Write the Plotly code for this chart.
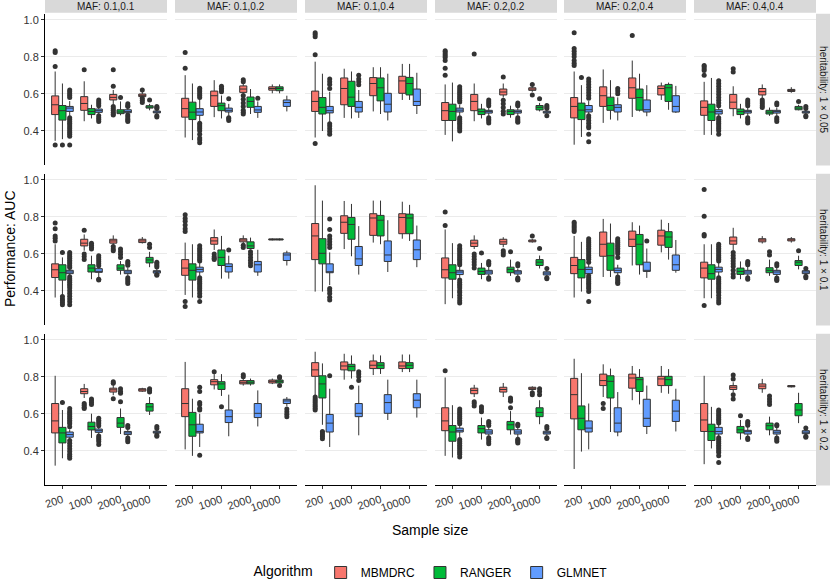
import plotly.graph_objects as go

# данные
sizes = ['200', '1000', '2000', '10000']
maf_labels = ['MAF: 0.1,0.1', 'MAF: 0.1,0.2', 'MAF: 0.1,0.4',
              'MAF: 0.2,0.2', 'MAF: 0.2,0.4', 'MAF: 0.4,0.4']
herit_labels = ['heritability: 1 × 0.05', 'heritability: 1 × 0.1',
                'heritability: 1 × 0.2']
algorithms = ['MBMDRC', 'RANGER', 'GLMNET']
colors = ['#F8766D', '#00BA38', '#619CFF']

# [lower whisker, q1, median, q3, upper whisker] per sample size;
# facets go row by row (heritability), then by MAF
mbmdrc_stats = [
    [[0.345, 0.487, 0.54, 0.588, 0.72], [0.451, 0.51, 0.547, 0.584, 0.667], [0.543, 0.566, 0.58, 0.596, 0.62], [0.58, 0.584, 0.591, 0.598, 0.61]],
    [[0.363, 0.473, 0.519, 0.575, 0.70], [0.473, 0.531, 0.589, 0.614, 0.673], [0.60, 0.607, 0.625, 0.642, 0.655], [0.602, 0.619, 0.628, 0.637, 0.65]],
    [[0.363, 0.504, 0.558, 0.614, 0.773], [0.469, 0.54, 0.628, 0.685, 0.735], [0.504, 0.589, 0.655, 0.687, 0.743], [0.566, 0.602, 0.669, 0.694, 0.761]],
    [[0.377, 0.455, 0.508, 0.552, 0.65], [0.451, 0.508, 0.558, 0.596, 0.655], [0.579, 0.593, 0.609, 0.625, 0.655], [0.61, 0.618, 0.625, 0.632, 0.64]],
    [[0.324, 0.469, 0.531, 0.579, 0.72], [0.442, 0.531, 0.589, 0.637, 0.731], [0.474, 0.575, 0.632, 0.685, 0.779], [0.566, 0.593, 0.628, 0.642, 0.66]],
    [[0.377, 0.483, 0.526, 0.561, 0.664], [0.478, 0.519, 0.554, 0.596, 0.64], [0.575, 0.593, 0.611, 0.628, 0.65], [0.605, 0.612, 0.618, 0.623, 0.635]],
    [[0.363, 0.471, 0.513, 0.545, 0.651], [0.616, 0.642, 0.657, 0.678, 0.704], [0.645, 0.657, 0.669, 0.678, 0.699], [0.655, 0.66, 0.669, 0.678, 0.69]],
    [[0.377, 0.483, 0.522, 0.568, 0.66], [0.62, 0.651, 0.669, 0.687, 0.731], [0.655, 0.664, 0.674, 0.681, 0.699], [0.672, 0.674, 0.677, 0.68, 0.683]],
    [[0.395, 0.568, 0.696, 0.763, 0.97], [0.625, 0.71, 0.77, 0.805, 0.885], [0.66, 0.699, 0.793, 0.816, 0.887], [0.681, 0.708, 0.796, 0.816, 0.881]],
    [[0.327, 0.469, 0.513, 0.577, 0.731], [0.625, 0.639, 0.657, 0.673, 0.699], [0.635, 0.651, 0.664, 0.678, 0.689], [0.66, 0.664, 0.669, 0.674, 0.68]],
    [[0.363, 0.492, 0.536, 0.58, 0.696], [0.474, 0.586, 0.651, 0.717, 0.788], [0.536, 0.639, 0.678, 0.722, 0.77], [0.607, 0.646, 0.696, 0.727, 0.784]],
    [[0.359, 0.469, 0.522, 0.554, 0.651], [0.62, 0.651, 0.669, 0.69, 0.74], [0.655, 0.664, 0.674, 0.681, 0.695], [0.66, 0.669, 0.675, 0.681, 0.69]],
    [[0.319, 0.496, 0.561, 0.655, 0.805], [0.685, 0.708, 0.72, 0.735, 0.761], [0.70, 0.717, 0.729, 0.738, 0.756], [0.718, 0.722, 0.729, 0.735, 0.74]],
    [[0.407, 0.584, 0.655, 0.735, 0.88], [0.731, 0.756, 0.773, 0.784, 0.814], [0.752, 0.761, 0.77, 0.779, 0.79], [0.76, 0.766, 0.775, 0.782, 0.79]],
    [[0.70, 0.802, 0.837, 0.876, 0.935], [0.784, 0.837, 0.858, 0.88, 0.924], [0.809, 0.844, 0.862, 0.885, 0.92], [0.825, 0.844, 0.858, 0.88, 0.92]],
    [[0.372, 0.508, 0.561, 0.632, 0.796], [0.69, 0.708, 0.726, 0.738, 0.756], [0.69, 0.717, 0.731, 0.743, 0.766], [0.725, 0.731, 0.738, 0.743, 0.748]],
    [[0.301, 0.572, 0.703, 0.791, 0.897], [0.69, 0.752, 0.779, 0.814, 0.867], [0.673, 0.738, 0.793, 0.814, 0.858], [0.713, 0.752, 0.788, 0.802, 0.858]],
    [[0.327, 0.504, 0.566, 0.655, 0.805], [0.715, 0.731, 0.743, 0.752, 0.77], [0.713, 0.735, 0.749, 0.761, 0.788], [0.742, 0.745, 0.748, 0.752, 0.755]],
]
ranger_stats = [
    [[0.354, 0.457, 0.508, 0.536, 0.655], [0.466, 0.487, 0.504, 0.519, 0.54], [0.483, 0.492, 0.501, 0.513, 0.558], [0.51, 0.522, 0.527, 0.535, 0.545]],
    [[0.349, 0.46, 0.50, 0.554, 0.655], [0.466, 0.508, 0.535, 0.549, 0.59], [0.49, 0.526, 0.558, 0.582, 0.625], [0.602, 0.616, 0.628, 0.637, 0.65]],
    [[0.398, 0.49, 0.526, 0.579, 0.708], [0.466, 0.531, 0.581, 0.667, 0.72], [0.49, 0.561, 0.632, 0.685, 0.743], [0.566, 0.593, 0.655, 0.688, 0.761]],
    [[0.342, 0.455, 0.504, 0.543, 0.66], [0.466, 0.487, 0.503, 0.517, 0.545], [0.47, 0.487, 0.504, 0.513, 0.535], [0.504, 0.512, 0.526, 0.536, 0.55]],
    [[0.366, 0.46, 0.511, 0.549, 0.646], [0.46, 0.51, 0.536, 0.581, 0.673], [0.504, 0.511, 0.579, 0.625, 0.708], [0.513, 0.558, 0.632, 0.65, 0.66]],
    [[0.377, 0.455, 0.501, 0.543, 0.685], [0.466, 0.487, 0.503, 0.517, 0.545], [0.48, 0.49, 0.50, 0.51, 0.525], [0.51, 0.513, 0.522, 0.531, 0.54]],
    [[0.376, 0.457, 0.497, 0.54, 0.58], [0.462, 0.501, 0.522, 0.54, 0.589], [0.487, 0.51, 0.522, 0.54, 0.56], [0.527, 0.55, 0.566, 0.58, 0.61]],
    [[0.363, 0.457, 0.51, 0.545, 0.651], [0.465, 0.536, 0.58, 0.62, 0.696], [0.623, 0.628, 0.642, 0.664, 0.687], [0.672, 0.674, 0.677, 0.68, 0.683]],
    [[0.395, 0.545, 0.602, 0.681, 0.887], [0.586, 0.678, 0.758, 0.796, 0.869], [0.651, 0.696, 0.781, 0.807, 0.887], [0.669, 0.708, 0.793, 0.814, 0.864]],
    [[0.359, 0.462, 0.497, 0.54, 0.657], [0.462, 0.488, 0.504, 0.522, 0.55], [0.48, 0.497, 0.515, 0.527, 0.568], [0.52, 0.536, 0.554, 0.568, 0.59]],
    [[0.395, 0.469, 0.515, 0.568, 0.664], [0.474, 0.51, 0.589, 0.657, 0.763], [0.487, 0.54, 0.651, 0.704, 0.752], [0.568, 0.634, 0.69, 0.719, 0.766]],
    [[0.359, 0.462, 0.492, 0.54, 0.651], [0.462, 0.488, 0.504, 0.522, 0.558], [0.48, 0.497, 0.51, 0.524, 0.568], [0.515, 0.536, 0.554, 0.563, 0.589]],
    [[0.359, 0.442, 0.496, 0.526, 0.62], [0.469, 0.512, 0.531, 0.554, 0.60], [0.49, 0.526, 0.549, 0.579, 0.628], [0.593, 0.614, 0.637, 0.655, 0.69]],
    [[0.372, 0.478, 0.54, 0.607, 0.681], [0.696, 0.731, 0.761, 0.773, 0.814], [0.752, 0.761, 0.77, 0.779, 0.79], [0.758, 0.766, 0.775, 0.782, 0.79]],
    [[0.54, 0.685, 0.761, 0.805, 0.872], [0.79, 0.832, 0.855, 0.867, 0.915], [0.815, 0.844, 0.862, 0.876, 0.915], [0.825, 0.844, 0.862, 0.876, 0.92]],
    [[0.363, 0.451, 0.501, 0.536, 0.646], [0.46, 0.496, 0.519, 0.536, 0.579], [0.487, 0.513, 0.54, 0.558, 0.614], [0.543, 0.584, 0.607, 0.632, 0.673]],
    [[0.395, 0.513, 0.575, 0.642, 0.819], [0.501, 0.685, 0.775, 0.805, 0.844], [0.65, 0.72, 0.784, 0.796, 0.841], [0.708, 0.752, 0.784, 0.802, 0.841]],
    [[0.412, 0.455, 0.504, 0.543, 0.637], [0.46, 0.496, 0.513, 0.531, 0.566], [0.483, 0.513, 0.535, 0.549, 0.584], [0.549, 0.589, 0.62, 0.655, 0.713]],
]
glmnet_stats = [
    [[0.48, 0.504, 0.522, 0.531, 0.56], [0.49, 0.499, 0.508, 0.517, 0.53], [0.49, 0.497, 0.503, 0.513, 0.525], [0.486, 0.496, 0.50, 0.506, 0.515]],
    [[0.451, 0.483, 0.501, 0.519, 0.575], [0.48, 0.501, 0.51, 0.522, 0.545], [0.469, 0.499, 0.512, 0.531, 0.558], [0.504, 0.531, 0.552, 0.566, 0.589]],
    [[0.445, 0.496, 0.508, 0.531, 0.61], [0.469, 0.501, 0.526, 0.558, 0.62], [0.455, 0.501, 0.543, 0.602, 0.708], [0.49, 0.536, 0.558, 0.625, 0.713]],
    [[0.48, 0.501, 0.511, 0.522, 0.54], [0.48, 0.495, 0.503, 0.51, 0.53], [0.48, 0.495, 0.503, 0.511, 0.525], [0.485, 0.495, 0.50, 0.505, 0.515]],
    [[0.49, 0.501, 0.513, 0.536, 0.56], [0.455, 0.501, 0.526, 0.54, 0.58], [0.478, 0.501, 0.513, 0.566, 0.646], [0.496, 0.501, 0.531, 0.589, 0.642]],
    [[0.48, 0.49, 0.503, 0.513, 0.53], [0.48, 0.495, 0.503, 0.51, 0.525], [0.48, 0.495, 0.503, 0.51, 0.525], [0.485, 0.495, 0.50, 0.505, 0.515]],
    [[0.483, 0.492, 0.501, 0.51, 0.52], [0.47, 0.499, 0.504, 0.519, 0.53], [0.48, 0.492, 0.501, 0.51, 0.525], [0.49, 0.495, 0.503, 0.508, 0.52]],
    [[0.48, 0.501, 0.515, 0.527, 0.55], [0.465, 0.501, 0.531, 0.545, 0.589], [0.48, 0.501, 0.54, 0.558, 0.621], [0.536, 0.563, 0.593, 0.604, 0.616]],
    [[0.43, 0.497, 0.501, 0.545, 0.607], [0.487, 0.536, 0.572, 0.639, 0.749], [0.501, 0.558, 0.593, 0.669, 0.781], [0.527, 0.568, 0.621, 0.674, 0.752]],
    [[0.47, 0.487, 0.501, 0.51, 0.53], [0.475, 0.49, 0.501, 0.51, 0.53], [0.475, 0.49, 0.501, 0.508, 0.52], [0.475, 0.485, 0.495, 0.502, 0.51]],
    [[0.485, 0.492, 0.515, 0.527, 0.545], [0.48, 0.497, 0.51, 0.522, 0.54], [0.469, 0.504, 0.51, 0.554, 0.628], [0.497, 0.51, 0.54, 0.593, 0.674]],
    [[0.48, 0.501, 0.515, 0.527, 0.55], [0.475, 0.49, 0.501, 0.51, 0.53], [0.475, 0.488, 0.501, 0.51, 0.525], [0.485, 0.492, 0.501, 0.508, 0.515]],
    [[0.465, 0.473, 0.487, 0.501, 0.515], [0.49, 0.499, 0.508, 0.517, 0.53], [0.478, 0.487, 0.496, 0.504, 0.515], [0.49, 0.495, 0.50, 0.505, 0.515]],
    [[0.42, 0.496, 0.504, 0.543, 0.60], [0.478, 0.552, 0.584, 0.62, 0.703], [0.531, 0.579, 0.602, 0.655, 0.726], [0.64, 0.655, 0.669, 0.678, 0.69]],
    [[0.42, 0.501, 0.549, 0.596, 0.735], [0.483, 0.584, 0.602, 0.655, 0.752], [0.566, 0.602, 0.66, 0.703, 0.784], [0.579, 0.632, 0.673, 0.708, 0.784]],
    [[0.47, 0.501, 0.508, 0.522, 0.54], [0.48, 0.49, 0.501, 0.513, 0.525], [0.47, 0.49, 0.501, 0.513, 0.525], [0.478, 0.49, 0.497, 0.505, 0.515]],
    [[0.407, 0.501, 0.522, 0.561, 0.655], [0.478, 0.501, 0.549, 0.632, 0.717], [0.49, 0.531, 0.575, 0.678, 0.752], [0.504, 0.558, 0.614, 0.673, 0.735]],
    [[0.475, 0.49, 0.504, 0.526, 0.54], [0.475, 0.49, 0.503, 0.51, 0.53], [0.475, 0.49, 0.50, 0.51, 0.525], [0.485, 0.492, 0.50, 0.508, 0.515]],
]

# выбросы (outliers) per sample size, same facet order
mbmdrc_out = [
    [[0.832, 0.823, 0.747, 0.322], [0.73], [0.729, 0.64, 0.53, 0.52, 0.51, 0.50, 0.49, 0.485], [0.62, 0.575, 0.565, 0.552]],
    [[0.823, 0.738], [], [0.675, 0.665, 0.59, 0.57, 0.55, 0.53, 0.51, 0.50, 0.49], []],
    [[0.929, 0.92, 0.908, 0.81, 0.331], [], [], []],
    [[0.832, 0.825, 0.815, 0.805, 0.795, 0.78, 0.738, 0.70], [0.814], [0.69, 0.565, 0.545, 0.525, 0.505, 0.49], [0.65, 0.593]],
    [[0.929, 0.844, 0.83, 0.815, 0.80, 0.78, 0.765, 0.752], [], [0.915], []],
    [[0.752, 0.745, 0.735, 0.725, 0.70], [0.735, 0.717], [0.566, 0.555, 0.545, 0.535, 0.525], []],
    [[0.766, 0.735, 0.696, 0.683, 0.669], [0.727, 0.598, 0.585, 0.568], [0.639, 0.625, 0.616], []],
    [[0.81, 0.79, 0.775, 0.755, 0.735, 0.72, 0.342, 0.315], [0.598, 0.585, 0.575, 0.568], [0.646, 0.634], []],
    [[], [], [], []],
    [[0.825, 0.752], [0.598, 0.585, 0.57, 0.555, 0.54, 0.522], [0.616, 0.605, 0.593], [0.696]],
    [[0.77, 0.76, 0.75, 0.74, 0.73, 0.72], [], [], []],
    [[0.947, 0.802, 0.704, 0.696, 0.32], [0.607, 0.59, 0.575, 0.56, 0.545, 0.53, 0.51, 0.49, 0.474], [], []],
    [[], [0.655, 0.645, 0.635, 0.628], [0.773, 0.765, 0.681], []],
    [[], [0.827], [0.81, 0.80], []],
    [[0.69, 0.68, 0.67, 0.66, 0.65, 0.64, 0.63, 0.62], [], [], []],
    [[0.832], [0.664, 0.655, 0.642], [], [0.713, 0.703]],
    [[], [0.655, 0.628], [], []],
    [[], [0.809, 0.788, 0.703, 0.68], [], []],
]
ranger_out = [
    [[0.322], [], [0.579], [0.566]],
    [[], [0.64, 0.63, 0.62, 0.61], [], []],
    [[], [], [], []],
    [[], [], [], [0.572]],
    [[0.687], [], [], []],
    [[], [], [], [0.558]],
    [[0.607, 0.368, 0.355, 0.345, 0.335, 0.324], [0.657, 0.645, 0.635, 0.625], [0.625, 0.61, 0.595, 0.58], [0.651, 0.634]],
    [[], [], [0.61, 0.595, 0.58, 0.565, 0.55, 0.535], []],
    [[], [], [], []],
    [[], [0.604], [0.611], [0.628]],
    [[], [], [], []],
    [[], [], [0.611, 0.593], [0.616]],
    [[0.66], [0.68, 0.67, 0.66, 0.65], [0.735, 0.72, 0.71, 0.664], [0.735, 0.725, 0.717]],
    [[], [0.637], [], [0.80, 0.795, 0.752]],
    [[0.504, 0.495, 0.485, 0.475, 0.465], [0.743], [], []],
    [[], [0.637, 0.625, 0.61], [0.685, 0.675, 0.667, 0.632], [0.735, 0.72, 0.703]],
    [[], [], [], []],
    [[], [0.589], [0.696, 0.68, 0.665, 0.65], []],
]
glmnet_out = [
    [[0.62, 0.61, 0.60, 0.59, 0.58, 0.47, 0.46, 0.45, 0.44, 0.43, 0.42, 0.41, 0.40, 0.39, 0.38, 0.37, 0.322],
     [0.566, 0.555, 0.545, 0.535, 0.48, 0.47, 0.46, 0.45],
     [0.545, 0.535, 0.53, 0.485, 0.475, 0.465, 0.458, 0.45],
     [0.531, 0.525, 0.52, 0.48, 0.474]],
    [[0.63, 0.62, 0.61, 0.60, 0.59, 0.58, 0.44, 0.43, 0.42, 0.41, 0.40, 0.38, 0.36, 0.35, 0.335],
     [0.572, 0.47, 0.465, 0.455], [0.575], []],
    [[0.68, 0.665, 0.65, 0.628, 0.437, 0.425, 0.41, 0.395, 0.38], [0.70, 0.68, 0.665, 0.648], [], []],
    [[0.637, 0.625, 0.615, 0.605, 0.595, 0.585, 0.575, 0.565, 0.555, 0.47, 0.46, 0.45, 0.44, 0.43, 0.42, 0.41, 0.398],
     [0.566, 0.555, 0.545, 0.535, 0.47, 0.46, 0.452, 0.442],
     [0.55, 0.54, 0.535, 0.47, 0.46, 0.452, 0.445],
     [0.536, 0.528, 0.52, 0.48]],
    [[0.68, 0.665, 0.65, 0.635, 0.62, 0.605, 0.59, 0.575, 0.48, 0.47, 0.455, 0.44, 0.425, 0.416, 0.38, 0.34],
     [0.628, 0.615, 0.60], [], []],
    [[0.67, 0.655, 0.64, 0.625, 0.61, 0.595, 0.58, 0.565, 0.55, 0.535, 0.47, 0.46, 0.45, 0.44, 0.43, 0.42, 0.41, 0.40, 0.38],
     [0.566, 0.555, 0.545, 0.535, 0.47, 0.46, 0.45, 0.442],
     [0.55, 0.54, 0.47, 0.46, 0.45],
     [0.53, 0.52, 0.48, 0.475]],
    [[0.607, 0.595, 0.585, 0.575, 0.565, 0.555, 0.545, 0.535, 0.525, 0.475, 0.465, 0.455, 0.445, 0.435, 0.425, 0.415, 0.40, 0.385, 0.37, 0.355, 0.34, 0.324],
     [0.589, 0.578, 0.567, 0.556, 0.545, 0.535, 0.462, 0.457],
     [0.558, 0.548, 0.538, 0.47, 0.46, 0.45, 0.439],
     [0.554, 0.545, 0.536, 0.528, 0.488, 0.483]],
    [[0.643, 0.63, 0.62, 0.61, 0.60, 0.59, 0.58, 0.57, 0.56, 0.47, 0.46, 0.45, 0.44, 0.43, 0.42, 0.41, 0.40, 0.385, 0.37, 0.342],
     [0.62], [], []],
    [[0.788, 0.731, 0.696, 0.68, 0.665, 0.65, 0.634, 0.412, 0.40, 0.385, 0.365, 0.35], [], [], []],
    [[0.643, 0.63, 0.62, 0.61, 0.60, 0.59, 0.58, 0.57, 0.56, 0.55, 0.54, 0.457, 0.445, 0.435, 0.425, 0.415, 0.40, 0.39, 0.375, 0.36, 0.345, 0.333],
     [0.558, 0.548, 0.54, 0.47, 0.462],
     [0.545, 0.535, 0.468, 0.462, 0.457],
     [0.52, 0.47, 0.465]],
    [[0.681, 0.67, 0.66, 0.65, 0.64, 0.63, 0.62, 0.61, 0.60, 0.59, 0.58, 0.57, 0.554, 0.48, 0.47, 0.46, 0.45, 0.44, 0.43, 0.42, 0.41, 0.395, 0.342],
     [0.681, 0.67, 0.66, 0.65, 0.64, 0.63, 0.62, 0.61, 0.60, 0.58, 0.474, 0.465, 0.455, 0.445, 0.439],
     [0.669], []],
    [[0.651, 0.64, 0.63, 0.62, 0.61, 0.60, 0.59, 0.58, 0.57, 0.56, 0.47, 0.46, 0.45, 0.44, 0.43, 0.42, 0.41, 0.40, 0.39, 0.375, 0.36, 0.345, 0.333],
     [0.558, 0.548, 0.54, 0.47, 0.462],
     [0.545, 0.535, 0.468, 0.46, 0.455],
     [0.52, 0.478, 0.47]],
    [[0.628, 0.615, 0.605, 0.595, 0.585, 0.575, 0.565, 0.555, 0.545, 0.53, 0.455, 0.44, 0.425, 0.41, 0.395, 0.38, 0.37, 0.359],
     [0.575, 0.565, 0.555, 0.545, 0.535, 0.48, 0.47, 0.46, 0.45, 0.434],
     [0.536, 0.525, 0.469, 0.458, 0.448],
     [0.531, 0.52, 0.485, 0.478]],
    [[0.743, 0.72, 0.66, 0.65, 0.63, 0.62, 0.375], [], [], [0.625, 0.61, 0.597, 0.584]],
    [[0.805], [0.827, 0.815, 0.80, 0.779], [], []],
    [[0.625, 0.615, 0.605, 0.595, 0.585, 0.575, 0.565, 0.555, 0.545, 0.46, 0.45, 0.44, 0.43, 0.42, 0.41, 0.40, 0.39, 0.38, 0.366],
     [0.558, 0.548, 0.536, 0.47, 0.46, 0.448, 0.437],
     [0.543, 0.535, 0.462, 0.455, 0.448, 0.442],
     [0.531, 0.52, 0.47, 0.466]],
    [[], [], [], []],
    [[0.62, 0.61, 0.60, 0.59, 0.58, 0.57, 0.56, 0.55, 0.47, 0.46, 0.45, 0.44, 0.43, 0.42, 0.41, 0.40, 0.39, 0.372, 0.336],
     [0.558, 0.548, 0.538, 0.468, 0.46],
     [0.54, 0.535, 0.468, 0.46, 0.451],
     [0.522, 0.478, 0.473]],
]

all_stats = [mbmdrc_stats, ranger_stats, glmnet_stats]
all_out = [mbmdrc_out, ranger_out, glmnet_out]

# размеры панелей в пикселях
W, H = 830, 587
col_left = [45, 175, 305, 435, 564, 694]
panel_w = 122
row_top = [14, 176.5, 339]
panel_h = 154
strip_h = 13
font = 'Liberation Sans, Arial, sans-serif'
dark = '#333333'

fig = go.Figure()
layout = {}
shapes = []
annotations = []

for r in range(3):
    for c in range(6):
        k = r * 6 + c
        sfx = '' if k == 0 else str(k + 1)
        xa, ya = 'x' + sfx, 'y' + sfx
        for a in range(3):
            st = all_stats[a][k]
            xs = [i + 1 + (a - 1) * 0.25 for i in range(4)]
            fig.add_trace(go.Box(
                x=xs,
                lowerfence=[s[0] for s in st],
                q1=[s[1] for s in st],
                median=[s[2] for s in st],
                q3=[s[3] for s in st],
                upperfence=[s[4] for s in st],
                width=0.245,
                whiskerwidth=0,
                boxpoints=False,
                fillcolor=colors[a],
                line=dict(color=dark, width=1),
                name=algorithms[a],
                legendgroup=algorithms[a],
                showlegend=(k == 0),
                hoverinfo='skip',
                xaxis=xa, yaxis=ya))
            ox, oy = [], []
            for i, pts in enumerate(all_out[a][k]):
                ox += [xs[i]] * len(pts)
                oy += pts
            fig.add_trace(go.Scatter(
                x=ox, y=oy, mode='markers',
                marker=dict(size=5, color=dark),
                showlegend=False, hoverinfo='skip',
                xaxis=xa, yaxis=ya))

        x0 = col_left[c] / W
        x1 = (col_left[c] + panel_w) / W
        y1 = 1 - row_top[r] / H
        y0 = 1 - (row_top[r] + panel_h) / H
        layout['xaxis' + sfx] = dict(
            domain=[x0, x1], anchor=ya, range=[0.4, 4.6],
            tickvals=[1, 2, 3, 4], ticktext=sizes,
            showticklabels=(r == 2), ticks='outside' if r == 2 else '',
            ticklen=3, tickcolor=dark, tickangle=-18,
            tickfont=dict(size=11, color=dark, family=font),
            showline=(r == 2), linecolor='black', linewidth=1,
            showgrid=False, zeroline=False)
        layout['yaxis' + sfx] = dict(
            domain=[y0, y1], anchor=xa, range=[0.212, 1.032],
            tickvals=[0.4, 0.6, 0.8, 1.0], ticktext=['0.4', '0.6', '0.8', '1.0'],
            showticklabels=(c == 0), ticks='outside' if c == 0 else '',
            ticklen=3, tickcolor=dark,
            tickfont=dict(size=11, color=dark, family=font),
            showline=(c == 0), linecolor='black', linewidth=1,
            showgrid=True, gridcolor='#EBEBEB', gridwidth=1, zeroline=False)

# полоски с подписями фасетов
for c in range(6):
    shapes.append(dict(type='rect', xref='paper', yref='paper',
                       x0=col_left[c] / W, x1=(col_left[c] + panel_w) / W,
                       y0=1 - strip_h / H, y1=1,
                       fillcolor='#D9D9D9', line=dict(width=0), layer='below'))
    annotations.append(dict(text=maf_labels[c], xref='paper', yref='paper',
                            x=(col_left[c] + panel_w / 2) / W, y=1 - strip_h / 2 / H,
                            xanchor='center', yanchor='middle',
                            showarrow=False, font=dict(size=10, color='#1A1A1A', family=font)))
for r in range(3):
    shapes.append(dict(type='rect', xref='paper', yref='paper',
                       x0=816 / W, x1=1, y0=1 - (row_top[r] + panel_h) / H,
                       y1=1 - row_top[r] / H,
                       fillcolor='#D9D9D9', line=dict(width=0), layer='below'))
    annotations.append(dict(text=herit_labels[r], xref='paper', yref='paper',
                            x=823.5 / W, y=1 - (row_top[r] + panel_h / 2) / H,
                            xanchor='center', yanchor='middle',
                            textangle=90, showarrow=False,
                            font=dict(size=10, color='#1A1A1A', family=font)))

annotations.append(dict(text='Performance: AUC', xref='paper', yref='paper',
                        x=10 / W, y=1 - 253 / H, xanchor='center', yanchor='middle',
                        textangle=-90, showarrow=False,
                        font=dict(size=14, color='black', family=font)))
annotations.append(dict(text='Sample size', xref='paper', yref='paper',
                        x=430 / W, y=1 - 538 / H, xanchor='center', yanchor='middle',
                        showarrow=False,
                        font=dict(size=14, color='black', family=font)))

fig.update_layout(
    **layout,
    width=W, height=H,
    margin=dict(l=0, r=0, t=0, b=0),
    plot_bgcolor='white', paper_bgcolor='white',
    shapes=shapes, annotations=annotations,
    legend=dict(orientation='h', x=432 / W, xanchor='center',
                y=-0.016, yanchor='bottom',
                title=dict(text='Algorithm', side='left',
                           font=dict(size=14, color='black', family=font)),
                font=dict(size=12, color='black', family=font),
                itemwidth=30, tracegroupgap=0),
    font=dict(family=font))

fig.write_html("out.html", config={'displayModeBar': False},
               post_script="document.body.style.margin='0';")
